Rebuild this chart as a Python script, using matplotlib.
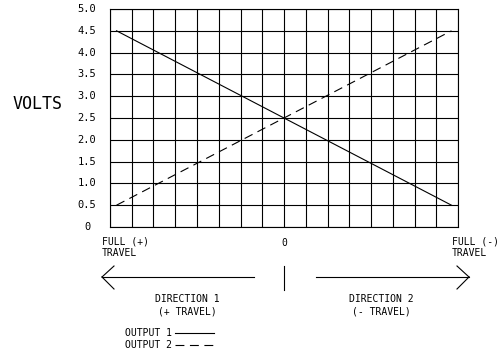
import matplotlib

matplotlib.use("Agg")
import matplotlib.pyplot as plt
from matplotlib.lines import Line2D

# travel position in grid columns (0 = centre), output voltage
position = [-7.7, 0.0, 7.7]
output1 = [4.5, 2.5, 0.5]
output2 = [0.5, 2.5, 4.5]

volt_ticks = [0, 0.5, 1.0, 1.5, 2.0, 2.5, 3.0, 3.5, 4.0, 4.5, 5.0]
volt_labels = ["0", "0.5", "1.0", "1.5", "2.0", "2.5", "3.0", "3.5", "4.0", "4.5", "5.0"]
col_ticks = list(range(-8, 9))

FONT = "DejaVu Sans Mono"
W, H = 501, 354

fig = plt.figure(figsize=(W / 100, H / 100), dpi=100)


def px(x, y):
    # pixel coords (top-left origin) -> figure fraction
    return x / W, 1 - y / H


ax = fig.add_axes([110 / W, 1 - 227 / H, 348 / W, 218 / H])
ax.set_xlim(-8, 8)
ax.set_ylim(0, 5)
ax.set_xticks(col_ticks)
ax.set_yticks(volt_ticks)
ax.tick_params(length=0, labelbottom=False, labelleft=False)
ax.grid(color="black", linewidth=0.8)
for sp in ax.spines.values():
    sp.set_linewidth(0.8)
ax.set_axisbelow(True)

l1, = ax.plot(position, output1, color="black", linewidth=0.8)
l2, = ax.plot(position, output2, color="black", linewidth=0.8, linestyle=(0, (8, 5)))

# y tick labels, drawn by hand so they sit like the drawing
for v, lab in zip(volt_ticks, volt_labels):
    ax.text(-0.066, v, lab, transform=ax.get_yaxis_transform(),
            ha="center", va="center", family=FONT, fontsize=7.5)

fig.text(*px(38, 104), "VOLTS", ha="center", va="center", family=FONT, fontsize=12)

# travel labels under the grid
fig.text(*px(102, 236), "FULL (+)\nTRAVEL", ha="left", va="top",
         family=FONT, fontsize=7, linespacing=1.3)
fig.text(*px(284, 243), "0", ha="center", va="center", family=FONT, fontsize=7)
fig.text(*px(452, 236), "FULL (-)\nTRAVEL", ha="left", va="top",
         family=FONT, fontsize=7, linespacing=1.3)

# direction arrows
def seg(x0, y0, x1, y1):
    a, b = px(x0, y0)
    c, d = px(x1, y1)
    fig.add_artist(Line2D([a, c], [b, d], color="black", linewidth=0.8))


seg(102, 277, 254, 277)
seg(102, 277, 114, 266)
seg(102, 277, 114, 289)
seg(316, 277, 469, 277)
seg(469, 277, 457, 266)
seg(469, 277, 457, 289)
seg(284, 266, 284, 290)

fig.text(*px(187, 294), "DIRECTION 1\n(+ TRAVEL)", ha="center", va="top",
         family=FONT, fontsize=7, linespacing=1.3, multialignment="center")
fig.text(*px(381, 294), "DIRECTION 2\n(- TRAVEL)", ha="center", va="top",
         family=FONT, fontsize=7, linespacing=1.3, multialignment="center")

ax.legend([l1, l2], ["OUTPUT 1", "OUTPUT 2"], loc="upper left",
          bbox_to_anchor=px(125, 328), bbox_transform=fig.transFigure,
          frameon=False, markerfirst=False, handlelength=4, handletextpad=0.3,
          labelspacing=0.2, borderpad=0, borderaxespad=0,
          prop={"family": FONT, "size": 7})

fig.savefig("out.png", dpi=100)
